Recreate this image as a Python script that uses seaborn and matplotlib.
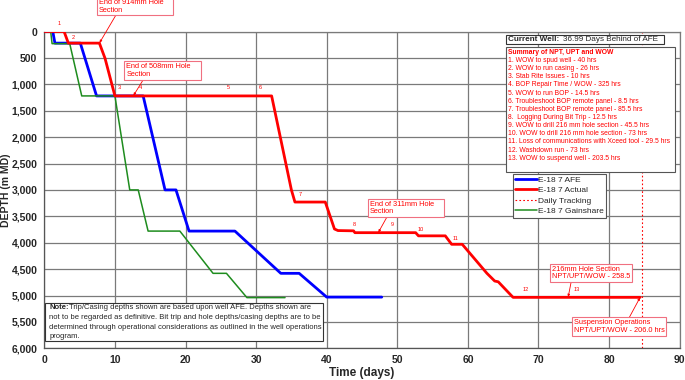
import numpy as np
import pandas as pd
import seaborn as sns
import matplotlib.pyplot as plt
from matplotlib.patches import Rectangle
from matplotlib.ticker import FuncFormatter

sns.set_theme(style="whitegrid", rc={"grid.color": "#7a7a7a", "grid.linewidth": 0.9})
plt.rcParams["font.family"] = ["Liberation Sans", "DejaVu Sans"]

# well depth curves (days, m MD)
afe_days = [0, 1.2, 1.5, 5.1, 7.4, 14.0, 17.1, 18.65, 20.5, 27.0, 33.5, 36.1, 40.0, 47.8]
afe_depth = [0, 0, 220, 220, 1220, 1220, 3000, 3000, 3780, 3780, 4580, 4580, 5030, 5030]

gain_days = [0, 0.9, 1.1, 3.6, 5.3, 10.0, 12.1, 13.3, 14.7, 19.2, 23.9, 25.8, 28.7, 34.1]
gain_depth = [0, 0, 230, 230, 1220, 1220, 3000, 3000, 3780, 3780, 4580, 4580, 5040, 5040]

act_days = [0, 2.8, 3.4, 7.8, 8.6, 10.0, 32.2, 35.0, 35.5, 39.8, 41.1, 41.6, 43.8, 44.0,
            52.6, 53.0, 56.8, 57.7, 59.2, 62.7, 63.8, 64.3, 66.4, 84.4]
act_depth = [0, 0, 220, 220, 508, 1220, 1220, 3000, 3230, 3230, 3740, 3770, 3775, 3810,
             3810, 3870, 3870, 4030, 4030, 4580, 4726, 4740, 5035, 5035]

tracking_day = 84.7

# NPT event markers on the actual curve
event_labels = [str(i) for i in range(1, 14)]
event_days = [2.1, 4.1, 10.6, 13.6, 26.1, 30.6, 36.2, 43.9, 49.3, 53.3, 58.3, 68.2, 75.4]
event_depth = [-110, 170, 1110, 1110, 1110, 1110, 3130, 3700, 3700, 3790, 3970, 4930, 4930]

summary_title = "Summary of NPT, UPT and WOW"
summary_lines = [
    "1. WOW to spud well - 40 hrs",
    "2. WOW to run casing - 26 hrs",
    "3. Stab Rite Issues - 10 hrs",
    "4. BOP Repair Time / WOW - 325 hrs",
    "5. WOW to run BOP - 14.5 hrs",
    "6. Troubleshoot BOP remote panel - 8.5 hrs",
    "7. Troubleshoot BOP remote panel - 85.5 hrs",
    "8.  Logging During Bit Trip - 12.5 hrs",
    "9. WOW to drill 216 mm hole section - 45.5 hrs",
    "10. WOW to drill 216 mm hole section - 73 hrs",
    "11. Loss of communications with Xceed tool - 29.5 hrs",
    "12. Washdown run - 73 hrs",
    "13. WOW to suspend well - 203.5 hrs",
]

note_lines = [
    "Trip/Casing depths shown are based upon well AFE. Depths shown are",
    "not to be regarded as definitive. Bit trip and hole depths/casing depths are to be",
    "determined through operational considerations as outlined in the well operations",
    "program.",
]

RED = "#ff0000"
BLUE = "#0000ff"
GREEN = "#1e8c1e"

fig = plt.figure(figsize=(6.85, 3.8), dpi=100)
ax = fig.add_axes([0.0647, 0.0834, 0.9275, 0.8337])

sns.lineplot(x=afe_days, y=afe_depth, estimator=None, sort=False, color=BLUE,
             linewidth=2.0, label="E-18 7 AFE", ax=ax, zorder=3)
sns.lineplot(x=act_days, y=act_depth, estimator=None, sort=False, color=RED,
             linewidth=2.0, label="E-18 7 Actual", ax=ax, zorder=4)
ax.axvline(tracking_day, color=RED, linestyle=(0, (1.5, 2)), linewidth=0.8,
           label="Daily Tracking", zorder=2)
sns.lineplot(x=gain_days, y=gain_depth, estimator=None, sort=False, color=GREEN,
             linewidth=1.1, label="E-18 7 Gainshare", ax=ax, zorder=3)

ax.set_xlim(0, 90)
ax.set_ylim(6000, 0)
ax.set_xticks(np.arange(0, 91, 10))
ax.set_yticks(np.arange(0, 6001, 500))
ax.yaxis.set_major_formatter(FuncFormatter(lambda v, p: f"{int(v):,}"))
ax.tick_params(axis="both", labelsize=7.5, length=3, color="#7a7a7a", pad=2)
for lab in ax.get_xticklabels() + ax.get_yticklabels():
    lab.set_fontweight("bold")
ax.set_xlabel("Time (days)", fontsize=8.5, fontweight="bold", labelpad=1)
ax.set_ylabel("DEPTH (m MD)", fontsize=7.5, fontweight="bold")
ax.yaxis.set_label_coords(-0.052, 0.5)
for s in ax.spines.values():
    s.set_color("#7a7a7a")
    s.set_linewidth(0.9)
ax.spines["left"].set_color("#555555")
ax.spines["bottom"].set_color("#555555")

# event numbers
for lab, d, z in zip(event_labels, event_days, event_depth):
    ax.text(d, z, lab, color=RED, fontsize=4, ha="center", va="bottom", zorder=6)

# callouts
box = dict(boxstyle="square,pad=0.25", fc="white", ec="#f07080", lw=0.8)
callouts = [
    ("End of 914mm Hole    \nSection", (7.8, 220), (7.7, -480), (0.25, 0)),
    ("End of 508mm Hole    \nSection", (12.6, 1220), (11.6, 740), (0.25, 0)),
    ("End of 311mm Hole    \nSection", (47.3, 3810), (46.1, 3345), (0.25, 0)),
    ("216mm Hole Section\nNPT/UPT/WOW - 258.5", (74.2, 5035), (71.9, 4575), (0.25, 0)),
    ("Suspension Operations\nNPT/UPT/WOW - 206.0 hrs", (84.4, 5035), (75.0, 5590), (0.6, 1)),
]
for txt, xy, xyt, rp in callouts:
    ax.annotate(txt, xy=xy, xytext=xyt, fontsize=5.3, color=RED, ha="left", va="center",
                linespacing=1.15, bbox=box, annotation_clip=False, zorder=7,
                arrowprops=dict(arrowstyle="-|>,head_length=0.3,head_width=0.12",
                                color=RED, lw=0.6, relpos=rp, shrinkA=0, shrinkB=0))

# current well box
ax.add_patch(Rectangle((0.7272, 0.9605), 0.2478, 0.0285, transform=ax.transAxes,
                       fc="white", ec="#333333", lw=0.8, zorder=8))
ax.text(0.730, 0.975, "Current Well:", transform=ax.transAxes, fontsize=5.9,
        fontweight="bold", va="center", zorder=9)
ax.text(0.817, 0.975, "36.99 Days Behind of AFE", transform=ax.transAxes,
        fontsize=5.9, va="center", zorder=9)

# summary box
ax.add_patch(Rectangle((0.7272, 0.5575), 0.2661, 0.3945, transform=ax.transAxes,
                       fc="white", ec="#555555", lw=0.8, zorder=8))
y0 = (348.3 - 52.3) / 316.8
step = 8.15 / 316.8
ax.text(0.7294, y0, summary_title, transform=ax.transAxes, fontsize=4.9, color=RED,
        fontweight="bold", va="center", zorder=9)
for i, line in enumerate(summary_lines):
    ax.text(0.7294, y0 - (i + 1) * step, line, transform=ax.transAxes, fontsize=4.9,
            color=RED, va="center", zorder=9)

# legend
leg = ax.legend(loc="upper left", bbox_to_anchor=(0.737, 0.551), borderaxespad=0,
                fontsize=6, handlelength=2.6, handletextpad=0.1, labelspacing=0.3,
                borderpad=0.3, fancybox=False, framealpha=1, edgecolor="#555555")
leg.get_frame().set_linewidth(0.8)
leg.set_zorder(9)

# note box
ax.add_patch(Rectangle((0.0012, 0.024), 0.437, 0.12, transform=ax.transAxes,
                       fc="white", ec="#333333", lw=0.8, zorder=8))
note_y = [(348.3 - py) / 316.8 for py in (307.7, 317.4, 327.1, 336.7)]
ax.text(0.0074, note_y[0], "Note:", transform=ax.transAxes, fontsize=5.5,
        fontweight="bold", va="center", zorder=9)
ax.text(0.0395, note_y[0], note_lines[0], transform=ax.transAxes, fontsize=5.5,
        va="center", zorder=9)
for ny, line in zip(note_y[1:], note_lines[1:]):
    ax.text(0.0074, ny, line, transform=ax.transAxes, fontsize=5.5, va="center", zorder=9)

fig.savefig("out.png", dpi=100)
